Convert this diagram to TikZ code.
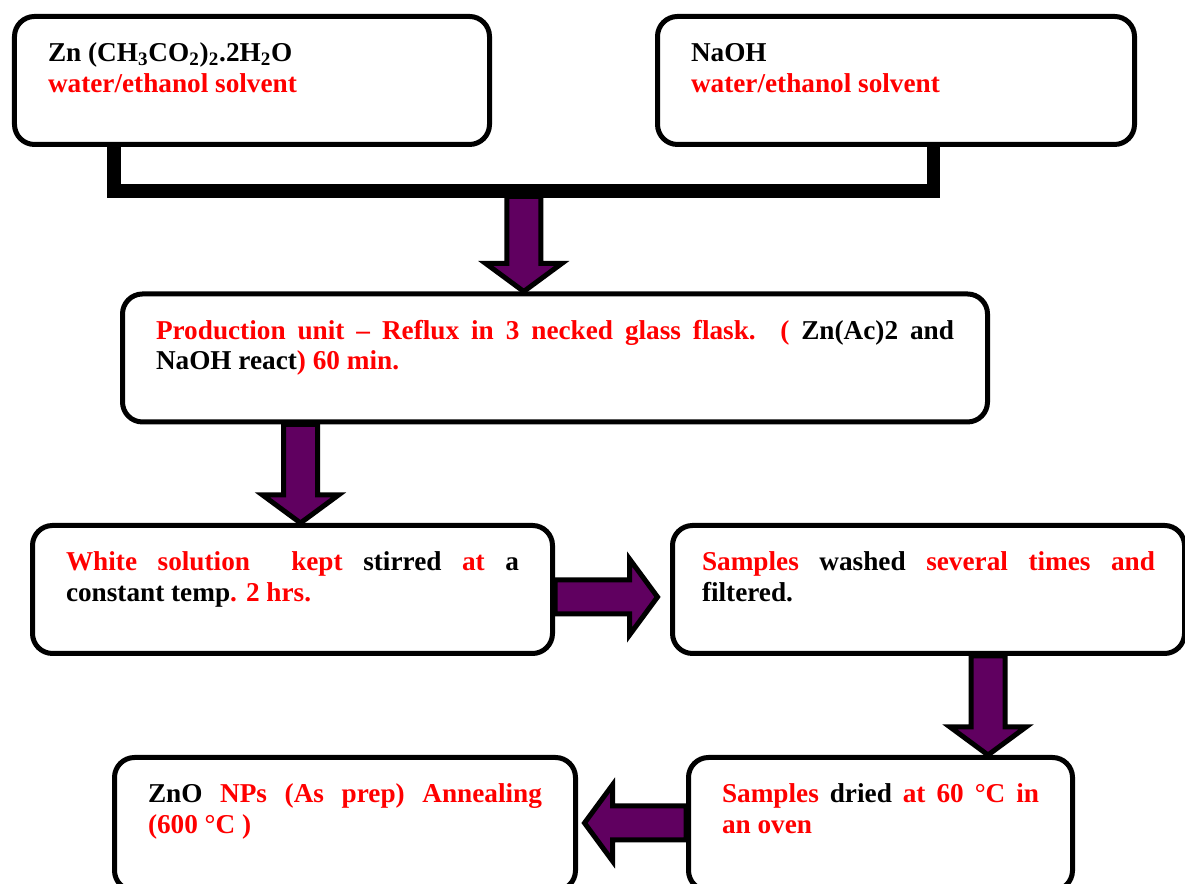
\documentclass[tikz,border=0pt]{standalone}
\usepackage{fontspec}
\setmainfont{Liberation Serif}
\usepackage{tikz}
\usetikzlibrary{
    calc,       % For coordinate calculations
    positioning % For relative placement of nodes
}
\definecolor{flowpurple}{RGB}{96,0,96}
\newcommand{\rd}[1]{\textcolor{red}{#1}}
% block arrow from #1 to #2 (tip at #2)
\newcommand{\fatarrow}[2]{%
    \coordinate (hb) at ($(#2)!0.56cm!(#1)$);
    \draw[fatarrow] ($(#1)!0.34cm!90:(#2)$) -- ($(hb)!0.34cm!90:(#2)$)
        -- ($(hb)!0.76cm!90:(#2)$) -- (#2) -- ($(hb)!0.76cm!-90:(#2)$)
        -- ($(hb)!0.34cm!-90:(#2)$) -- ($(#1)!0.34cm!-90:(#2)$) -- cycle;
}

\begin{document}
\begin{tikzpicture}[
    font=\fontsize{15.5}{17.1}\selectfont\bfseries,
    stepbox/.style={
        draw,
        line width=0.1cm,
        rounded corners=0.4cm,
        align=justify,
        inner xsep=0.67cm,
        inner ysep=0.3cm,
        text height=0.61cm,
        text depth=1.35cm
    },
    bracket/.style={line width=0.27cm},
    fatarrow/.style={draw=black, fill=flowpurple, line width=0.1cm, miter limit=10}
]
    \useasboundingbox (0,0) rectangle (23.7,17.68);
    \clip (0,0) rectangle (23.7,17.68);

    % --- Starting solutions ---
    \node[stepbox, text width=8.16cm] (zinc) at (5.04,16.07)
        {Zn (CH\textsubscript{3}CO\textsubscript{2})\textsubscript{2}.2H\textsubscript{2}O\\ \rd{water/ethanol solvent}};
    \node[stepbox, text width=8.2cm] (naoh) at (17.92,16.07)
        {NaOH\\ \rd{water/ethanol solvent}};

    % --- Process steps ---
    \node[stepbox, text width=15.96cm] (reflux) at (11.1,10.52)
        {\rd{Production unit – Reflux in 3 necked glass flask. (} Zn(Ac)2 and\linebreak NaOH react\rd{) 60 min.}};
    \node[stepbox, text width=9.06cm] (stir) at (5.85,5.89)
        {\rd{White solution\ \ kept} stirred \rd{at} a\linebreak constant temp\rd{. 2 hrs.}};
    \node[stepbox, text width=9.06cm, inner xsep=0.59cm] (wash) at (18.57,5.89)
        {\rd{Samples} washed \rd{several times and}\linebreak filtered.};
    \node[stepbox, text width=6.34cm, text depth=1.45cm] (dry) at (17.61,1.2)
        {\rd{Samples} dried \rd{at 60 °C in\linebreak an oven}};
    \node[stepbox, text width=7.88cm, text depth=1.45cm] (zno) at (6.9,1.2)
        {ZnO \rd{NPs (As prep) Annealing\linebreak (600 °C )}};

    % --- Mixing bracket ---
    \coordinate (lfoot) at (2.28,13.86);
    \coordinate (rfoot) at (18.67,13.86);
    \draw[bracket] (lfoot |- zinc.south) -- (lfoot) -- (rfoot) -- (rfoot |- naoh.south);

    % --- Block arrows ---
    \coordinate (from1) at ([yshift=-0.11cm]$(lfoot)!0.5!(rfoot)$);
    \coordinate (to1) at (from1 |- reflux.north);
    \coordinate (to2) at ([xshift=0.16cm]stir.north);
    \coordinate (from2) at (to2 |- reflux.south);
    \coordinate (from3) at ([yshift=-0.15cm]stir.east);
    \coordinate (to3) at ([xshift=-0.25cm]from3 -| wash.west);
    \coordinate (from4) at ([xshift=1.19cm]wash.south);
    \coordinate (to4) at (from4 |- dry.north);
    \coordinate (from5) at ([yshift=0.02cm]dry.west);
    \coordinate (to5) at ([xshift=0.13cm]from5 -| zno.east);
    \foreach \n in {1,...,5} {
        \fatarrow{from\n}{to\n}
    }

\end{tikzpicture}
\end{document}
